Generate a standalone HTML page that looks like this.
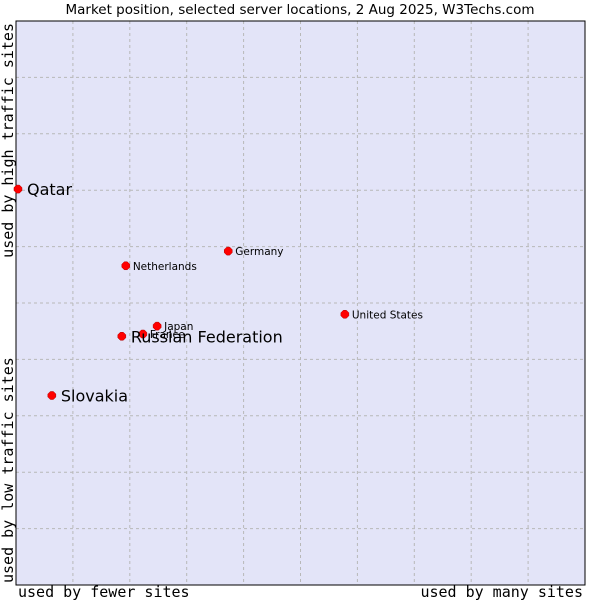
<!DOCTYPE html>
<html><head><meta charset="utf-8"><style>
html,body{margin:0;padding:0;background:#fff;}
svg{display:block;}
</style></head><body>
<svg id="chart" width="600" height="600" xmlns="http://www.w3.org/2000/svg">
<rect x="0" y="0" width="600" height="600" fill="#fff"/>
<text x="300" y="14" text-anchor="middle" font-family="DejaVu Sans, sans-serif" font-size="13.5" fill="#000">Market position, selected server locations, 2 Aug 2025, W3Techs.com</text>
<rect x="16" y="21" width="569" height="564" fill="#e3e4f8"/>
<g id="grid"></g>
<rect x="16" y="21" width="569" height="564" fill="none" stroke="#000" stroke-width="1"/>
<g id="points"></g>
<text x="18" y="597" font-family="DejaVu Sans Mono, monospace" font-size="15" fill="#000">used by fewer sites</text>
<text x="583" y="597" text-anchor="end" font-family="DejaVu Sans Mono, monospace" font-size="15" fill="#000">used by many sites</text>
<text transform="translate(13,23) rotate(-90)" text-anchor="end" font-family="DejaVu Sans Mono, monospace" font-size="15" fill="#000">used by high traffic sites</text>
<text transform="translate(13,583) rotate(-90)" font-family="DejaVu Sans Mono, monospace" font-size="15" fill="#000">used by low traffic sites</text>
</svg>
<script>
const names = ["Qatar","Netherlands","Germany","United States","Japan","France","Russian Federation","Slovakia"];
const xValues = [0.35,19.3,37.3,57.8,24.8,22.3,18.6,6.3];
const yValues = [70.2,56.6,59.2,48.0,45.9,44.5,44.1,33.6];
const bigLabel = [true,false,false,false,false,false,true,true];
const L=16,T=21,W=569,H=564;
const sx=v=>L+v/100*W, sy=v=>T+H-v/100*H;
const NS="http://www.w3.org/2000/svg";
const grid=document.getElementById('grid');
for(let i=1;i<10;i++){
  const vx=document.createElementNS(NS,'line');
  
  
  const gx=sx(i*10);
  vx.setAttribute('x1',gx);vx.setAttribute('x2',gx);vx.setAttribute('y1',T);vx.setAttribute('y2',T+H);
  vx.setAttribute('stroke','#b8b8b8');vx.setAttribute('stroke-dasharray','3,3');
  grid.appendChild(vx);
  const hy=document.createElementNS(NS,'line');
  
  
  const gy=sy(i*10);
  hy.setAttribute('x1',L);hy.setAttribute('x2',L+W);hy.setAttribute('y1',gy);hy.setAttribute('y2',gy);
  hy.setAttribute('stroke','#b8b8b8');hy.setAttribute('stroke-dasharray','3,3');
  grid.appendChild(hy);
}
const pts=document.getElementById('points');
names.forEach((n,i)=>{
  const x=sx(xValues[i]),y=sy(yValues[i]);
  const d=document.createElementNS(NS,'polygon');
  
  
  d.setAttribute('points',`${x-1.5},${y-4} ${x+1.5},${y-4} ${x+4},${y-1.5} ${x+4},${y+1.5} ${x+1.5},${y+4} ${x-1.5},${y+4} ${x-4},${y+1.5} ${x-4},${y-1.5}`);
  d.setAttribute('fill','#ff0000');
  d.setAttribute('stroke','#b00000');
  d.setAttribute('stroke-width','0.5');
  pts.appendChild(d);
  const t=document.createElementNS(NS,'text');
  
  
  t.setAttribute('x',x+(bigLabel[i]?9:7));
  t.setAttribute('y',y+(bigLabel[i]?6:4));
  t.setAttribute('font-family','DejaVu Sans, sans-serif');
  t.setAttribute('font-size',bigLabel[i]?16:10.5);
  t.setAttribute('fill','#000');
  t.textContent=n;
  pts.appendChild(t);
});
</script>
</body></html>
